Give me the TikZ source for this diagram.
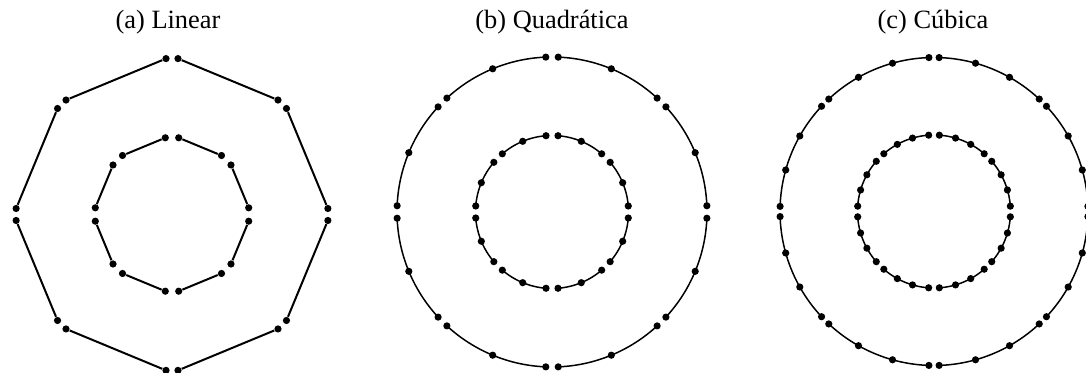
\documentclass[tikz,border=0pt]{standalone}
\usepackage{fontspec}
\setmainfont{Liberation Serif}
\usetikzlibrary{calc}

% one ring of 8 elements: #1 name, #2 centre, #3 radius, #4 half gap (deg), #5 order
\newcommand{\elemring}[5]{%
    \foreach \k in {0,...,7} {
        \pgfmathsetmacro{\a}{90+45*\k+#4}
        \pgfmathsetmacro{\b}{135+45*\k-#4}
        \foreach \j in {0,...,#5} {
            \node[dot] (#1-\k-\j) at ($(#2)+({\a+(\b-\a)*\j/#5}:#3)$) {};
        }
        \ifnum#5=1
            \draw[straight] (#1-\k-0) -- (#1-\k-1);
        \else
            \draw[curved] (#1-\k-0.center) arc[start angle=\a, end angle=\b, radius=#3];
        \fi
    }
}

\begin{document}
\begin{tikzpicture}[x=0.5pt, y=0.5pt,
    dot/.style={circle, fill=black, inner sep=0pt, minimum size=3.6pt},
    straight/.style={line width=1pt},
    curved/.style={line width=0.75pt},
    ttl/.style={font=\fontsize{13.2}{16}\selectfont, anchor=base}]

    \useasboundingbox (0,0) rectangle (1086,373);

    \coordinate (cA) at (172,158.5);
    \coordinate (cB) at (552,161);
    \coordinate (cC) at (934,161.5);

    \node[ttl] (ttlA) at (168,344) {(a) Linear};
    \node[ttl] (ttlB) at (552,344) {(b) Quadrática};
    \node[ttl] (ttlC) at (933,344) {(c) Cúbica};

    \elemring{linOut}{cA}{156}{2.2}{1}
    \elemring{linIn}{cA}{77}{5}{1}
    \elemring{quaOut}{cB}{155}{2.3}{2}
    \elemring{quaIn}{cB}{76.5}{4.5}{2}
    \elemring{cubOut}{cC}{154}{1.9}{3}
    \elemring{cubIn}{cC}{76.5}{4}{3}
\end{tikzpicture}
\end{document}
